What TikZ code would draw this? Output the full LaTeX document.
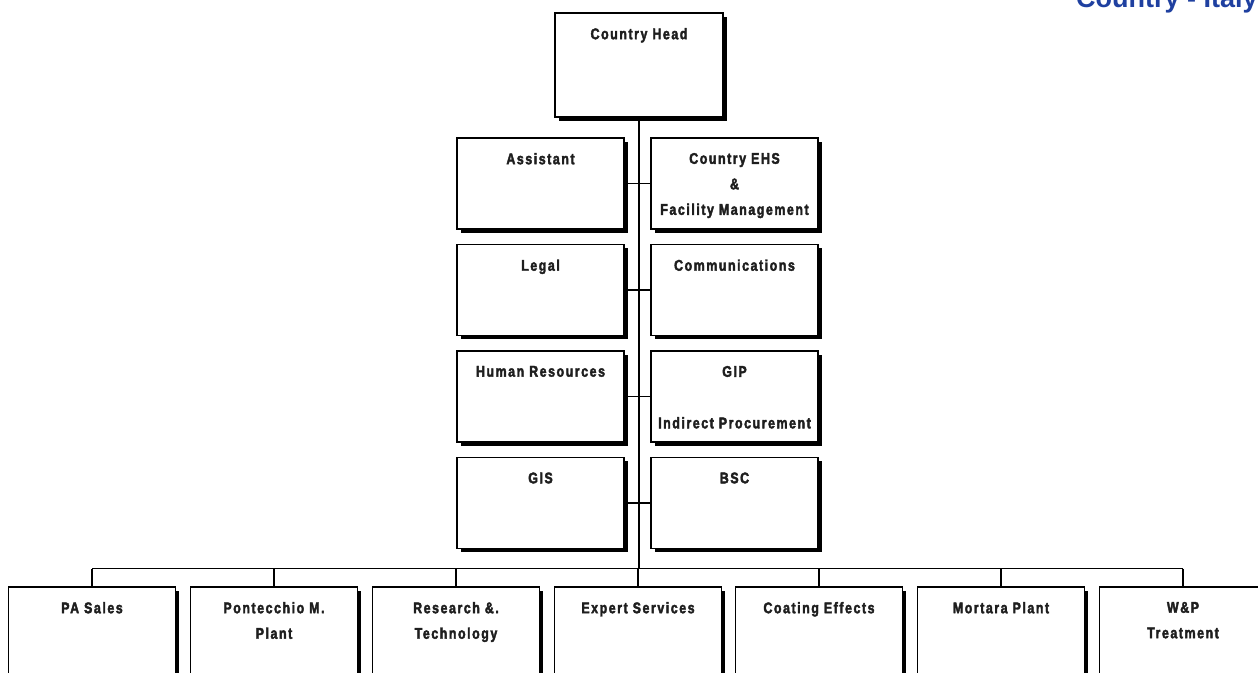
\documentclass[tikz,border=0pt]{standalone}
\usepackage{fontspec}
\setmainfont{Liberation Sans}
\newfontfamily\boxfont[FakeStretch=0.8,LetterSpace=10,BoldFeatures={FakeBold=2.5}]{Liberation Sans}
\usepackage{xcolor}
\usetikzlibrary{positioning}
\usetikzlibrary{shadows}
\definecolor{titleblue}{RGB}{31,64,160}
\definecolor{inkgray}{RGB}{30,30,30}

\begin{document}
\begin{tikzpicture}[x=1pt,y=-1pt,
	unit/.style={draw,line width=1.4pt,fill=white,minimum width=167pt,minimum height=91pt,inner sep=0pt,
		drop shadow={shadow xshift=3.5pt,shadow yshift=-3.5pt,opacity=1,fill=black}},
	lbl/.style={anchor=north,inner sep=0pt,align=center,text=inkgray,font=\boxfont\bfseries\fontsize{15.5}{25.5}\selectfont},
	link/.style={line width=1.2pt}]
	\useasboundingbox (0,0) rectangle (1258,672);
	\clip (0,0) rectangle (1258,672);
	\fill[white] (0,0) rectangle (1258,672);
	\node[anchor=base west,inner sep=0pt,text=titleblue,font=\bfseries\fontsize{27}{30}\selectfont] (title) at (1076,7) {Country - Italy};
	% head and staff
	\node[unit,minimum width=168pt,minimum height=104pt] (head) at (639,65) {};
	\node[lbl,below=15.5pt of head.north] (headtxt) {Country Head};
	\node[unit] (assist) at (540.5,183.5) {};
	\node[lbl,below=15.5pt of assist.north] (assisttxt) {Assistant};
	\node[unit] (ehs) at (734.5,183.5) {};
	\node[lbl,below=15.5pt of ehs.north] (ehstxt) {Country EHS\\\&\\Facility Management};
	\node[unit] (legal) at (540.5,290) {};
	\node[lbl,below=15.5pt of legal.north] (legaltxt) {Legal};
	\node[unit] (comm) at (734.5,290) {};
	\node[lbl,below=15.5pt of comm.north] (commtxt) {Communications};
	\node[unit] (hr) at (540.5,396.5) {};
	\node[lbl,below=15.5pt of hr.north] (hrtxt) {Human Resources};
	\node[unit] (gip) at (734.5,396.5) {};
	\node[lbl,below=15.5pt of gip.north] (giptxt) {GIP\\[26pt]Indirect Procurement};
	\node[unit] (gis) at (540.5,503) {};
	\node[lbl,below=15.5pt of gis.north] (gistxt) {GIS};
	\node[unit] (bsc) at (734.5,503) {};
	\node[lbl,below=15.5pt of bsc.north] (bsctxt) {BSC};
	% divisions
	\node[unit,minimum width=166.5pt] (pasales) at (92,632.5) {};
	\node[lbl,below=15.5pt of pasales.north] (pasalestxt) {PA Sales};
	\node[unit,minimum width=166.5pt] (pontecchio) at (274,632.5) {};
	\node[lbl,below=15.5pt of pontecchio.north] (pontecchiotxt) {Pontecchio M.\\Plant};
	\node[unit,minimum width=166.5pt] (research) at (456,632.5) {};
	\node[lbl,below=15.5pt of research.north] (researchtxt) {Research \&.\\Technology};
	\node[unit,minimum width=166.5pt] (expert) at (638,632.5) {};
	\node[lbl,below=15.5pt of expert.north] (experttxt) {Expert Services};
	\node[unit,minimum width=166.5pt] (coating) at (819,632.5) {};
	\node[lbl,below=15.5pt of coating.north] (coatingtxt) {Coating Effects};
	\node[unit,minimum width=166.5pt] (mortara) at (1001,632.5) {};
	\node[lbl,below=15.5pt of mortara.north] (mortaratxt) {Mortara Plant};
	\node[unit,minimum width=166.5pt] (wp) at (1183,632.5) {};
	\node[lbl,below=15.5pt of wp.north] (wptxt) {W\&P\\Treatment};
	% lines
	\coordinate (hub) at (639,568.5);
	\draw[link] (head.south) -- (head.south |- hub);
	\draw[link] (assist.east) -- (ehs.west);
	\draw[link] (legal.east) -- (comm.west);
	\draw[link] (hr.east) -- (gip.west);
	\draw[link] (gis.east) -- (bsc.west);
	\draw[link] (pasales.north |- hub) -- (wp.north |- hub);
	\draw[link] (pasales.north |- hub) -- (pasales.north);
	\draw[link] (pontecchio.north |- hub) -- (pontecchio.north);
	\draw[link] (research.north |- hub) -- (research.north);
	\draw[link] (expert.north |- hub) -- (expert.north);
	\draw[link] (coating.north |- hub) -- (coating.north);
	\draw[link] (mortara.north |- hub) -- (mortara.north);
	\draw[link] (wp.north |- hub) -- (wp.north);
\end{tikzpicture}
\end{document}
